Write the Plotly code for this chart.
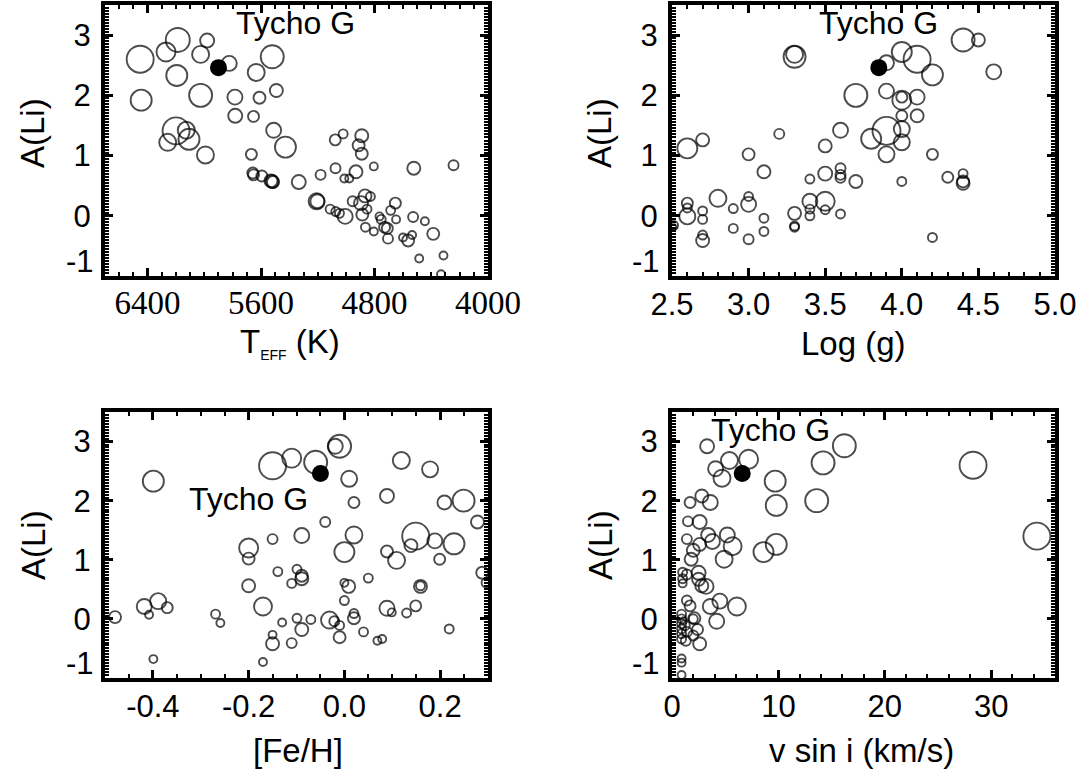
import plotly.graph_objects as go

# ---------------- data ----------------
# Panel 1: Teff vs A(Li)
teff = [6452, 6270, 6187, 5980, 6026, 5824, 5521, 5634, 6194, 6445,
        6026, 5784, 5611, 5492, 5782, 5653, 6199, 6127, 6108, 6258,
        5992, 5511, 5428, 5668, 5658, 5653, 5594, 5530, 5516, 5521,
        5334, 5180, 5208, 5203, 5113, 5073, 5047, 5007, 5075, 5077,
        5021, 4890, 4912, 4890, 4931, 5013, 4978, 4805, 4954, 4895,
        4867, 4829, 4853, 4886, 4864, 4805, 4765, 4753, 4729, 4710,
        4705, 4686, 4653, 4648, 4528, 4445, 4386, 4563, 4535, 4599,
        4523, 4243, 4485, 4314, 4331]
ali_teff = [2.60, 2.72, 2.92, 2.91, 2.68, 2.53, 2.64, 2.38, 2.33, 1.92,
            2.00, 1.97, 1.96, 2.08, 1.66, 1.65, 1.41, 1.42, 1.27, 1.22,
            1.01, 1.42, 1.14, 1.02, 0.71, 0.68, 0.66, 0.58, 0.56, 0.57,
            0.56, 0.68, 0.24, 0.24, 0.11, 0.07, 0.04, -0.01, 0.79, 1.26,
            1.36, 1.33, 1.17, 1.03, 0.73, 0.62, 0.62, 0.82, 0.24, 0.21,
            0.33, 0.32, 0.11, 0.02, -0.19, -0.26, -0.01, -0.06, -0.19, -0.21,
            -0.38, 0.09, 0.21, -0.06, -0.02, -0.09, -0.30, -0.41, -0.32, -0.36,
            0.79, 0.84, -0.71, -0.66, -0.97]
size_teff = [27, 19, 24, 14, 17, 15, 23, 17, 21, 21,
             23, 15, 12, 13, 14, 11, 27, 17, 21, 17,
             17, 15, 21, 11, 11, 11, 11, 13, 12, 13,
             14, 10, 16, 14, 9, 9, 9, 15, 10, 11,
             9, 13, 12, 12, 13, 8, 8, 8, 10, 14,
             13, 9, 9, 12, 9, 8, 8, 9, 11, 11,
             10, 9, 11, 8, 10, 8, 12, 12, 8, 8,
             13, 10, 8, 8, 8]

# Panel 2: log g vs A(Li)
logg = [2.51, 2.51, 2.6, 2.7, 2.6, 2.6, 2.6, 2.7, 2.7, 2.7,
        2.7, 2.8, 2.9, 2.9, 3.0, 3.0, 3.0, 3.0, 3.1, 3.1,
        3.1, 3.2, 3.3, 3.3, 3.3, 3.3, 3.3, 3.4, 3.4, 3.4,
        3.4, 3.5, 3.5, 3.5, 3.5, 3.6, 3.6, 3.6, 3.6, 3.6,
        3.7, 3.7, 3.8, 3.9, 3.9, 3.9, 3.9, 4.0, 4.0, 4.0,
        4.0, 4.0, 4.0, 4.0, 4.1, 4.1, 4.1, 4.2, 4.2, 4.2,
        4.3, 4.4, 4.5, 4.4, 4.4, 4.4, 4.6]
ali_logg = [-0.16, -0.19, 1.12, 1.26, 0.21, 0.13, -0.01, 0.08, -0.06, -0.32,
            -0.41, 0.29, 0.12, -0.21, 1.02, 0.32, 0.19, -0.39, 0.73, -0.04,
            -0.26, 1.36, 2.64, 2.68, 0.04, -0.17, -0.19, 0.61, 0.24, 0.11,
            0.00, 1.16, 0.70, 0.24, 0.10, 1.42, 0.79, 0.68, 0.63, 0.03,
            2.00, 0.57, 1.28, 2.54, 2.07, 1.41, 1.02, 2.72, 1.97, 1.92,
            1.66, 1.44, 1.22, 0.57, 2.60, 1.97, 1.66, 2.34, 1.02, -0.36,
            0.64, 2.92, 2.92, 0.70, 0.57, 0.54, 2.39]
size_logg = [9, 6, 20, 13, 11, 9, 16, 9, 9, 9,
             13, 17, 9, 9, 12, 9, 15, 10, 13, 9,
             9, 10, 22, 17, 13, 9, 9, 9, 15, 9,
             9, 13, 14, 19, 9, 15, 10, 10, 10, 9,
             23, 13, 20, 15, 15, 28, 16, 20, 11, 19,
             11, 16, 16, 9, 27, 15, 13, 21, 11, 9,
             11, 23, 13, 9, 12, 13, 15]

# Panel 3: [Fe/H] vs A(Li)
feh = [-0.479, -0.418, -0.389, -0.408, -0.370, -0.399, -0.399, -0.269, -0.259, -0.200,
       -0.200, -0.200, -0.170, -0.170, -0.150, -0.150, -0.150, -0.150, -0.139, -0.130,
       -0.110, -0.110, -0.110, -0.099, -0.099, -0.089, -0.089, -0.089, -0.089, -0.070,
       -0.060, -0.040, -0.031, -0.021, -0.010, -0.010, -0.019, -0.010, 0.000, 0.000,
       0.000, 0.009, 0.010, 0.020, 0.020, 0.020, 0.020, 0.040, 0.050, 0.069,
       0.079, 0.089, 0.089, 0.089, 0.099, 0.109, 0.119, 0.130, 0.139, 0.149,
       0.149, 0.159, 0.159, 0.179, 0.189, 0.199, 0.209, 0.219, 0.229, 0.249,
       0.278, 0.288, 0.296]
ali_feh = [0.03, 0.21, 0.30, 0.07, 0.19, 2.33, -0.68, 0.08, -0.07, 1.20,
           1.02, 0.56, 0.21, -0.73, 2.59, 1.35, -0.27, -0.42, 0.80, -0.06,
           2.72, 0.60, -0.41, 0.84, 0.01, 1.41, 0.73, 0.68, -0.18, -0.01,
           2.65, 1.64, -0.02, -0.04, -0.11, -0.31, 2.92, 2.92, 1.13, 0.61,
           0.31, 0.55, 2.37, 1.97, 1.42, 0.09, 0.01, -0.22, 0.69, -0.37,
           -0.34, 2.08, 1.14, 0.18, 0.11, 0.99, 2.68, 0.10, 1.24, 1.40,
           0.22, 0.55, 0.56, 2.53, 1.32, 1.01, 1.97, -0.17, 1.27, 2.00,
           1.64, 0.78, 0.61]
size_feh = [12, 15, 16, 8, 11, 21, 8, 9, 8, 19,
            12, 13, 18, 8, 27, 10, 8, 13, 9, 8,
            19, 9, 10, 9, 9, 15, 12, 13, 13, 9,
            23, 10, 17, 10, 9, 12, 15, 23, 20, 8,
            9, 13, 16, 11, 17, 9, 12, 9, 9, 8,
            8, 14, 12, 15, 8, 17, 17, 9, 13, 27,
            11, 13, 9, 16, 15, 11, 14, 9, 21, 22,
            13, 12, 9]

# Panel 4: v sin i vs A(Li)
vsini = [3.3, 5.4, 7.2, 4.1, 4.7, 9.7, 9.8, 14.2, 16.2, 13.6,
         28.3, 34.3, 1.7, 2.8, 3.6, 1.5, 2.6, 1.4, 3.4, 3.8,
         5.2, 5.7, 4.9, 2.6, 2.0, 1.8, 8.6, 9.8, 1.0, 1.0,
         1.0, 1.4, 2.5, 2.5, 2.8, 3.2, 1.4, 1.7, 2.1, 3.6,
         4.5, 6.1, 4.2, 0.9, 0.9, 0.9, 0.9, 0.9, 0.9, 1.2,
         1.4, 2.0, 2.4, 2.6, 1.3, 0.9, 0.9, 0.9, 2.0, 1.1]
ali_vsini = [2.92, 2.68, 2.70, 2.54, 2.38, 2.33, 1.92, 2.64, 2.93, 2.00,
             2.60, 1.40, 1.97, 2.08, 1.97, 1.65, 1.64, 1.35, 1.42, 1.31,
             1.42, 1.23, 1.01, 1.26, 1.16, 1.01, 1.13, 1.26, 0.79, 0.68,
             0.60, 0.75, 0.78, 0.67, 0.56, 0.55, 0.31, 0.22, 0.01, 0.21,
             0.30, 0.21, -0.04, 0.08, 0.00, -0.08, -0.17, -0.25, -0.34, -0.11,
             -0.22, -0.28, -0.18, -0.42, -0.37, -0.67, -0.74, -0.95, 0.00, -0.03]
size_vsini = [14, 17, 19, 15, 17, 21, 21, 23, 23, 23,
              27, 27, 11, 13, 15, 10, 14, 10, 14, 15,
              15, 18, 17, 13, 13, 13, 20, 21, 9, 9,
              8, 10, 14, 13, 13, 15, 10, 11, 12, 15,
              15, 18, 15, 9, 9, 9, 9, 9, 9, 10,
              10, 10, 11, 13, 10, 8, 8, 8, 9, 7]

# Tycho G
tycho_teff, tycho_logg, tycho_feh, tycho_vsini, tycho_ali = 5900, 3.85, -0.05, 6.6, 2.46
tycho_size = 17

panels = [
    ("x", "y", teff, ali_teff, size_teff, tycho_teff),
    ("x2", "y2", logg, ali_logg, size_logg, tycho_logg),
    ("x3", "y3", feh, ali_feh, size_feh, tycho_feh),
    ("x4", "y4", vsini, ali_vsini, size_vsini, tycho_vsini),
]

W, H = 1083, 773
def px(x):
    return x / W
def py(y):
    return 1 - y / H

fig = go.Figure()
for xa, ya, xs, ys, ss, tx in panels:
    fig.add_trace(go.Scatter(
        x=xs, y=ys, xaxis=xa, yaxis=ya, mode="markers",
        marker=dict(symbol="circle-open", size=ss, color="black",
                    line=dict(width=1.9, color="black")),
        showlegend=False, hoverinfo="skip", cliponaxis=True))
    fig.add_trace(go.Scatter(
        x=[tx], y=[tycho_ali], xaxis=xa, yaxis=ya, mode="markers",
        marker=dict(symbol="circle", size=tycho_size, color="black",
                    line=dict(width=0)),
        showlegend=False, hoverinfo="skip"))

SANS = "Liberation Sans, Arial, Helvetica, sans-serif"
SERIF = "Liberation Serif, Times New Roman, serif"
FS = 31
TS = 33

def axis_style(domain, anchor, minor_dtick, **kw):
    d = dict(domain=domain, anchor=anchor, automargin=False, showline=True,
             linewidth=4, linecolor="black", mirror="allticks", ticks="inside",
             ticklen=8, tickwidth=2.5, tickcolor="black", showgrid=False,
             zeroline=False,
             minor=dict(ticks="inside", ticklen=4, tickwidth=1.6,
                        tickcolor="black", dtick=minor_dtick, showgrid=False),
             tickfont=dict(family=SANS, size=FS, color="black"))
    d.update(kw)
    return d

xdomL = [px(105), px(488)]
xdomR = [px(672), px(1055)]
ydomT = [py(276), py(5)]
ydomB = [py(678), py(412)]

yt = dict(range=[-1, 3.5], tickvals=[0, 1, 2, 3], ticktext=["0", "1", "2", "3"],
          ticklabelstandoff=4)

fig.update_layout(
    width=W, height=H, margin=dict(l=0, r=0, t=0, b=0, autoexpand=False),
    paper_bgcolor="white", plot_bgcolor="white",
    xaxis=axis_style(xdomL, "y", 100, range=[6700, 4000],
                     tickvals=[6400, 5600, 4800, 4000],
                     ticktext=["6400", "5600", "4800", "4000"],
                     ticklabelstandoff=-6,
                     tickfont=dict(family=SERIF, size=33, color="black")),
    yaxis=axis_style(ydomT, "x", 0.05, **yt),
    xaxis2=axis_style(xdomR, "y2", 0.1, range=[2.5, 5.0],
                      tickvals=[2.5, 3.0, 3.5, 4.0, 4.5, 5.0],
                      ticktext=["2.5", "3.0", "3.5", "4.0", "4.5", "5.0"],
                      ticklabelstandoff=-2),
    yaxis2=axis_style(ydomT, "x2", 0.05, **yt),
    xaxis3=axis_style(xdomL, "y3", 0.05, range=[-0.5, 0.3],
                      tickvals=[-0.4, -0.2, 0.0, 0.2],
                      ticktext=["-0.4", "-0.2", "0.0", "0.2"],
                      ticklabelstandoff=-2),
    yaxis3=axis_style(ydomB, "x3", 0.05, **yt),
    xaxis4=axis_style(xdomR, "y4", 2, range=[0, 36],
                      tickvals=[0, 10, 20, 30],
                      ticktext=["0", "10", "20", "30"],
                      ticklabelstandoff=-2),
    yaxis4=axis_style(ydomB, "x4", 0.05, **yt),
)

ann = []
def text(x, y, s, size=FS, family=SANS, angle=0, xanchor="center", yanchor="middle"):
    ann.append(dict(x=px(x), y=py(y), xref="paper", yref="paper", text=s,
                    showarrow=False, textangle=angle, xanchor=xanchor,
                    yanchor=yanchor, font=dict(family=family, size=size, color="black")))

# Tycho G labels
text(295, 23, "Tycho G", size=32)
text(878, 23, "Tycho G", size=32)
text(248, 499, "Tycho G", size=32)
text(770, 430, "Tycho G", size=32)

# axis titles
text(33, 133, "A(Li)", size=TS, angle=-90)
text(600, 133, "A(Li)", size=TS, angle=-90)
text(33, 545, "A(Li)", size=TS, angle=-90)
text(600, 545, "A(Li)", size=TS, angle=-90)
text(290, 343, "T<sub><span style='font-size:14px'>EFF</span></sub> (K)", size=TS)
text(853, 343, "Log (g)", size=TS)
text(298, 750, "[Fe/H]", size=TS)
text(861, 750, "v sin i (km/s)", size=TS)

fig.update_layout(annotations=ann)

# "-1" tick labels sitting just above the bottom edge
for xa, ya, xl in [("x", "y", 96), ("x2", "y2", 662), ("x3", "y3", 96), ("x4", "y4", 662)]:
    fig.add_annotation(x=px(xl), y=-1, xref="paper", yref=ya, text="-1",
                       showarrow=False, xanchor="right", yanchor="bottom",
                       yshift=-5, font=dict(family=SANS, size=FS, color="black"))

fig.write_html("out.html")
